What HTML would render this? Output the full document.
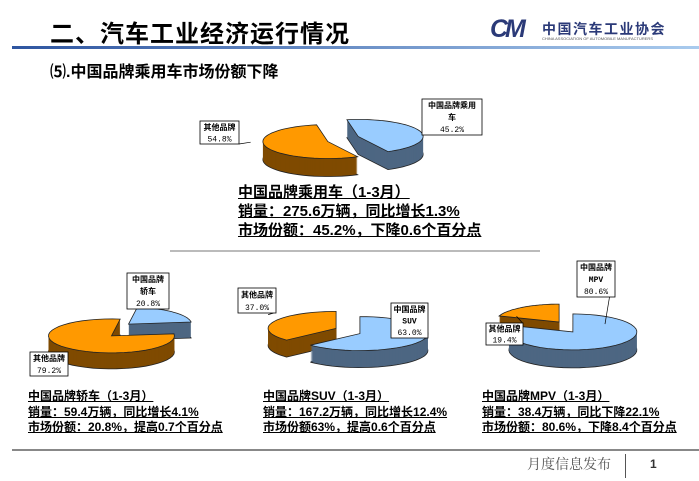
<!DOCTYPE html>
<html><head><meta charset="utf-8"><style>
body{margin:0;background:#fff;}
#wrap{position:relative;width:699px;height:481px;overflow:hidden;font-family:"Liberation Sans","Noto Sans CJK SC",sans-serif;}
.t{position:absolute;white-space:nowrap;color:#000;}
.blk{position:absolute;font-weight:bold;color:#000;}
.blk div{text-decoration:underline;white-space:nowrap;}
</style></head><body>
<div id="wrap">
<div class="t" style="left:50px;top:14px;font-size:24px;font-weight:bold;letter-spacing:1px;">二、汽车工业经济运行情况</div>
<div class="t" style="left:490px;top:15px;font-size:25px;font-weight:bold;font-style:italic;color:#2b3a78;letter-spacing:-3px;">CM</div>
<div class="t" style="left:542px;top:19px;font-size:14px;font-weight:bold;color:#2b3a78;letter-spacing:1.5px;">中国汽车工业协会</div>
<div class="t" style="left:542px;top:36px;font-size:4px;color:#555;">CHINA ASSOCIATION OF AUTOMOBILE MANUFACTURERS</div>
<div style="position:absolute;left:12px;top:46px;width:687px;height:3px;background:linear-gradient(to right,#2e55a0,#a9cbee);"></div>
<div class="t" style="left:50px;top:58px;font-size:16px;font-weight:bold;">⑸.中国品牌乘用车市场份额下降</div>

<svg id="pies" width="699" height="481" style="position:absolute;left:0;top:0"></svg>

<div class="blk" style="left:238px;top:183px;font-size:15px;line-height:19px;">
<div>中国品牌乘用车（1-3月）</div><div>销量：275.6万辆，同比增长1.3%</div><div>市场份额：45.2%，下降0.6个百分点</div></div>
<div style="position:absolute;left:170px;top:250px;width:370px;height:2px;background:#bbb;"></div>
<div class="blk" style="left:28px;top:389px;font-size:12px;line-height:15.5px;">
<div>中国品牌轿车（1-3月）</div><div>销量：59.4万辆，同比增长4.1%</div><div>市场份额：20.8%，提高0.7个百分点</div></div>
<div class="blk" style="left:263px;top:389px;font-size:12px;line-height:15.5px;">
<div>中国品牌SUV（1-3月）</div><div>销量：167.2万辆，同比增长12.4%</div><div>市场份额63%，提高0.6个百分点</div></div>
<div class="blk" style="left:482px;top:389px;font-size:12px;line-height:15.5px;">
<div>中国品牌MPV（1-3月）</div><div>销量：38.4万辆，同比下降22.1%</div><div>市场份额：80.6%，下降8.4个百分点</div></div>
<div style="position:absolute;left:12px;top:449px;width:687px;height:2px;background:#888;"></div>
<div class="t" style="left:527px;top:454px;font-size:14px;color:#555;font-family:'Liberation Serif','Noto Serif CJK SC',serif;">月度信息发布</div>
<div style="position:absolute;left:625px;top:454px;width:1px;height:24px;background:#555;"></div>
<div class="t" style="left:650px;top:457px;font-size:12px;font-weight:bold;color:#333;">1</div>
</div>
<script>
// data
const pieNames = ['main','sedan','suv','mpv'];
const chinaShare = [45.2, 20.8, 63.0, 80.6];
const otherShare = [54.8, 79.2, 37.0, 19.4];
const chinaLabels = [['中国品牌乘用','车','45.2%'],['中国品牌','轿车','20.8%'],['中国品牌','SUV','63.0%'],['中国品牌','MPV','80.6%']];
const otherLabels = [['其他品牌','54.8%'],['其他品牌','79.2%'],['其他品牌','37.0%'],['其他品牌','19.4%']];

const geom = [
 {cx:343,cy:139,rx:65,ry:17,d:18,e:16,ey:0.5,st:-10, cb:[422,99,60,36], ob:[200,121,39,23]},
 {cx:120,cy:330,rx:63,ry:17,d:16,e:12,ey:0.7,st:8, cb:[127,273,42,36], ob:[30,352,38,24]},
 {cx:348,cy:331,rx:68,ry:17,d:17,e:13,ey:0.5,st:0, cb:[391,303,37,35], ob:[238,288,38,25]},
 {cx:566,cy:327,rx:64,ry:18,d:18,e:12,ey:0.5,st:0, cb:[577,261,38,36], ob:[486,323,37,22]}
];
const colors = {china:['#99ccff','#4d6682'], other:['#ff9900','#7f4a00']};
const svg = document.getElementById('pies');
const NS='http://www.w3.org/2000/svg';
function mk(t,a){const el=document.createElementNS(NS,t);for(const k in a)el.setAttribute(k,a[k]);return el;}
function pt(g,ox,oy,a){return [ox+g.rx*Math.sin(a), oy-g.ry*Math.cos(a)];}
function slicePath(g,ox,oy,a0,a1){
  let s='M'+ox+','+oy;const n=40;
  for(let i=0;i<=n;i++){const p=pt(g,ox,oy,a0+(a1-a0)*i/n);s+='L'+p[0].toFixed(1)+','+p[1].toFixed(1);}
  return s+'Z';
}
pieNames.forEach((name,i)=>{
  const g=geom[i];
  const tot=chinaShare[i]+otherShare[i];
  const s0=g.st*Math.PI/180;
  const a1=s0+chinaShare[i]/tot*2*Math.PI;
  const slices=[{k:'china',a0:s0,a1:a1},{k:'other',a0:a1,a1:s0+2*Math.PI}];
  slices.forEach(s=>{const m=(s.a0+s.a1)/2;s.ox=g.cx+g.e*Math.sin(m);s.oy=g.cy-g.e*Math.cos(m)*g.ey;s.back=Math.cos(m);});
  slices.sort((a,b)=>b.back-a.back);
  slices.forEach(s=>{
    const grp=mk('g',{});
    
    
    grp.appendChild(mk('path',{d:slicePath(g,s.ox,s.oy+g.d,s.a0,s.a1),fill:colors[s.k][1],stroke:'#222','stroke-width':0.8}));
    for(let k=g.d-1;k>=1;k--)grp.appendChild(mk('path',{d:slicePath(g,s.ox,s.oy+k,s.a0,s.a1),fill:colors[s.k][1]}));
    grp.appendChild(mk('path',{d:slicePath(g,s.ox,s.oy,s.a0,s.a1),fill:colors[s.k][0],stroke:'#222','stroke-width':0.8}));
    svg.appendChild(grp);
  });
  [['china',g.cb,chinaLabels[i]],['other',g.ob,otherLabels[i]]].forEach(L=>{
    const b=L[1];
    const sl=slices.find(s=>s.k===L[0]);
    const m=(sl.a0+sl.a1)/2;
    const p=pt(g,sl.ox,sl.oy,m);
    const lb=mk('g',{});
    
    
    const bx=b[0]+b[2]/2,by=b[1]+b[3]/2;
    const ax=Math.max(b[0],Math.min(b[0]+b[2],p[0])), ay=p[1]<b[1]?b[1]:(p[1]>b[1]+b[3]?b[1]+b[3]:by);
    lb.appendChild(mk('line',{x1:ax,y1:ay,x2:(p[0]*2+bx)/3,y2:(p[1]*2+by)/3,stroke:'#000','stroke-width':0.7}));
    lb.appendChild(mk('rect',{x:b[0],y:b[1],width:b[2],height:b[3],fill:'#fff',stroke:'#000','stroke-width':0.8}));
    const lines=L[2];const lh=b[3]/lines.length;
    lines.forEach((tx,j)=>{
      const t=mk('text',{x:bx,y:b[1]+lh*(j+0.5)+3,'text-anchor':'middle','font-size':8,'font-weight':j===lines.length-1?'normal':'bold','font-family':'"Liberation Mono","Noto Sans CJK SC",monospace'});
      t.textContent=tx;lb.appendChild(t);
    });
    svg.appendChild(lb);
  });
});
</script>
</body></html>
